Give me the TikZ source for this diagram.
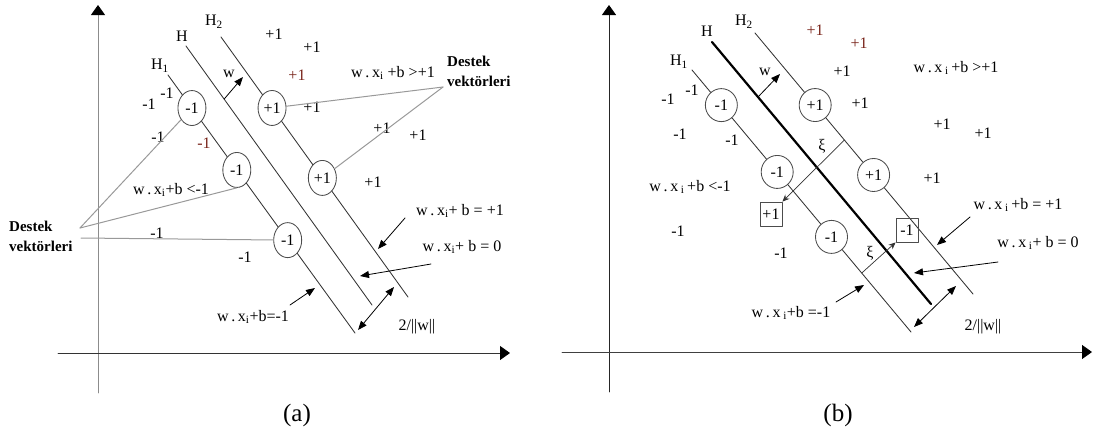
\documentclass[tikz,border=0pt]{standalone}
\usepackage{fontspec}
\setmainfont{Liberation Serif}
\usetikzlibrary{arrows.meta,shapes.geometric}
\definecolor{valred}{RGB}{120,35,25}
\newcommand{\wdotx}{w\,.\,x\textsubscript{i}}

\begin{document}
\begin{tikzpicture}[x=1pt, y=-1pt, font=\fontsize{16}{19}\selectfont, line join=round, line cap=round,
  >={Triangle[length=9pt,width=7pt]},
  axis/.style={line width=0.9pt, -{Triangle[length=10pt,width=14pt,color=black]}},
  hyp/.style={draw=black!80, line width=0.85pt},
  sv/.style={ellipse, draw=black!70, line width=0.85pt, minimum width=28pt, minimum height=35pt, inner sep=0pt},
  svb/.style={sv, minimum width=32pt, minimum height=33pt},
  slack/.style={draw=black!70, line width=0.8pt, minimum width=22pt, minimum height=24pt, inner sep=0pt},
  link/.style={draw=black!40, line width=1pt},
  lbl/.style={inner sep=0pt},
  dv/.style={inner sep=0pt, anchor=west, align=left, font=\fontsize{15}{20}\selectfont\bfseries},
  note/.style={->, line width=0.8pt},
  xiarrow/.style={-{Stealth[length=7pt,width=6pt]}, draw=black!80, line width=0.7pt}]
\useasboundingbox (0,0) rectangle (1097,437);

% ---------- (a) ----------
\coordinate (a-y0) at (98,393);
\coordinate (a-y1) at (98,5);
\coordinate (a-x0) at (58,353);
\coordinate (a-x1) at (510,353);
\draw[axis, draw=black!45] (a-y0) -- (a-y1);
\draw[axis, draw=black!80] (a-x0) -- (a-x1);

\coordinate (a-H2s) at (221,37);
\coordinate (a-H2e) at (408,297);
\coordinate (a-Hs) at (186,46);
\coordinate (a-He) at (372,305);
\coordinate (a-H1s) at (168,75);
\coordinate (a-H1e) at (355,333);
\node[lbl] (a-lH2) at (214,22) {H\textsubscript{2}};
\node[lbl] (a-lH) at (182,36) {H};
\node[lbl] (a-lH1) at (160,66) {H\textsubscript{1}};

% support vectors on the margins
\path (a-H1s) -- (a-H1e) node[sv, pos=0.128] (a-m1) {-1} node[sv, pos=0.368] (a-m2) {-1}
  node[sv, pos=0.64] (a-m3) {-1};
\path (a-H2s) -- (a-H2e) node[sv, pos=0.273] (a-s1) {+1} node[sv, pos=0.542] (a-s2) {+1};
\draw[hyp] (a-H1s) -- (a-m1) -- (a-m2) -- (a-m3) -- (a-H1e);
\draw[hyp] (a-Hs) -- (a-He);
\draw[hyp] (a-H2s) -- (a-s1) -- (a-s2) -- (a-H2e);

\path (a-Hs) -- (a-He) coordinate[pos=0.205] (a-w0);
\coordinate (a-w1) at (243,77);
\draw[note] (a-w0) -- (a-w1);
\node[lbl] (a-lw) at (229,74) {w};

% class labels
\node[lbl] (a-p1) at (274,34) {+1};
\node[lbl] (a-p2) at (312,47) {+1};
\node[lbl, text=valred] (a-p3) at (297,75) {+1};
\node[lbl] (a-p4) at (312,107) {+1};
\node[lbl] (a-p5) at (382,128) {+1};
\node[lbl] (a-p6) at (418,135) {+1};
\node[lbl] (a-p7) at (373,182) {+1};
\node[lbl] (a-n1) at (167,93) {-1};
\node[lbl] (a-n2) at (149,104) {-1};
\node[lbl] (a-n3) at (158,137) {-1};
\node[lbl, text=valred] (a-n4) at (204,143) {-1};
\node[lbl] (a-n5) at (157,233) {-1};
\node[lbl] (a-n6) at (245,257) {-1};

% Destek vektorleri
\node[dv] (a-dvr) at (447,71) {Destek\\vektörleri};
\node[dv] (a-dvl) at (9,236) {Destek\\vektörleri};
\coordinate (a-dvr0) at (443,87);
\coordinate (a-dvl0) at (80,228);
\coordinate (a-dvl1) at (81,238);
\draw[link] (a-dvr0) -- (a-s1);
\draw[link] (a-dvr0) -- (a-s2);
\draw[link] (a-dvl0) -- (a-m1);
\draw[link] (a-dvl0) -- (a-m2.south);
\draw[link] (a-dvl1) -- (a-m3);

% equations
\node[lbl] (a-gt) at (393,73) {\wdotx\ +b >+1};
\node[lbl] (a-lt) at (171,190) {\wdotx +b <-1};
\node[lbl] (a-e1) at (460,211) {\wdotx + b = +1};
\node[lbl] (a-e0) at (462,247) {\wdotx + b = 0};
\node[lbl] (a-em) at (253,317) {\wdotx +b=-1};
\node[lbl] (a-mg) at (417,327) {2/||w||};
\coordinate (a-e1t) at (405,218);
\coordinate (a-e1h) at (378,249);
\coordinate (a-e0t) at (431,264);
\coordinate (a-e0h) at (360,276);
\coordinate (a-emt) at (290,305);
\coordinate (a-emh) at (315,288);
\coordinate (a-mg0) at (358,330);
\coordinate (a-mg1) at (394,287);
\draw[note] (a-e1t) -- (a-e1h);
\draw[note] (a-e0t) -- (a-e0h);
\draw[note] (a-emt) -- (a-emh);
\draw[note, <->] (a-mg0) -- (a-mg1);
\node[lbl, font=\fontsize{25}{28}\selectfont] (a-cap) at (297,415) {(a)};

% ---------- (b) ----------
\coordinate (b-y0) at (609,392);
\coordinate (b-y1) at (609,5);
\coordinate (b-x0) at (562,352);
\coordinate (b-x1) at (1092,352);
\draw[axis, draw=black!85] (b-y0) -- (b-y1);
\draw[axis, draw=black!75] (b-x0) -- (b-x1);

\coordinate (b-H2s) at (755,33);
\coordinate (b-H2e) at (973,294);
\coordinate (b-Hs) at (712,42);
\coordinate (b-He) at (931,304);
\coordinate (b-H1s) at (692,70);
\coordinate (b-H1e) at (911,332);
\node[lbl] (b-lH2) at (744,22) {H\textsubscript{2}};
\node[lbl] (b-lH) at (707,31) {H};
\node[lbl] (b-lH1) at (679,62) {H\textsubscript{1}};

\path (b-H1s) -- (b-H1e) node[svb, pos=0.134] (b-m1) {-1} node[svb, pos=0.389] (b-m2) {-1}
  node[svb, pos=0.637] (b-m3) {-1};
\path (b-H2s) -- (b-H2e) node[svb, pos=0.276] (b-s1) {+1} node[svb, pos=0.544] (b-s2) {+1};
\draw[hyp] (b-H1s) -- (b-m1) -- (b-m2) -- (b-m3) -- (b-H1e);
\draw[line width=2.2pt] (b-Hs) -- (b-He);
\draw[hyp] (b-H2s) -- (b-s1) -- (b-s2) -- (b-H2e);

\path (b-Hs) -- (b-He) coordinate[pos=0.21] (b-w0);
\coordinate (b-w1) at (780,74);
\draw[note] (b-w0) -- (b-w1);
\node[lbl] (b-lw) at (765,72) {w};

% slack points
\node[slack] (b-bp) at (771,214) {+1};
\node[slack] (b-bm) at (907,230) {-1};
\path (b-H2s) -- (b-H2e) coordinate[pos=0.41] (b-xi1);
\path (b-H1s) -- (b-H1e) coordinate[pos=0.775] (b-xi2);
\draw[xiarrow] (b-xi1) -- (b-bp.north east);
\draw[xiarrow] (b-xi2) -- (b-bm.south west);
\node[lbl] (b-lxi1) at (822,146) {ξ};
\node[lbl] (b-lxi2) at (870,253) {ξ};

\node[lbl, text=valred] (b-p1) at (815,30) {+1};
\node[lbl, text=valred] (b-p2) at (859,43) {+1};
\node[lbl] (b-p3) at (842,71) {+1};
\node[lbl] (b-p4) at (860,103) {+1};
\node[lbl] (b-p5) at (942,124) {+1};
\node[lbl] (b-p6) at (983,133) {+1};
\node[lbl] (b-p7) at (932,178) {+1};
\node[lbl] (b-n1) at (692,90) {-1};
\node[lbl] (b-n2) at (668,99) {-1};
\node[lbl] (b-n3) at (680,134) {-1};
\node[lbl] (b-n4) at (732,140) {-1};
\node[lbl] (b-n5) at (678,231) {-1};
\node[lbl] (b-n6) at (781,253) {-1};

\node[lbl] (b-gt) at (956,68) {w\,.\,x\,\textsubscript{i}\,+b >+1};
\node[lbl] (b-lt) at (690,187) {w\,.\,x\,\textsubscript{i}\,+b <-1};
\node[lbl] (b-e1) at (1018,205) {w\,.\,x\,\textsubscript{i}\,+b = +1};
\node[lbl] (b-e0) at (1038,243) {w\,.\,x\,\textsubscript{i}+ b = 0};
\node[lbl] (b-em) at (791,313) {w\,.\,x\,\textsubscript{i}+b =-1};
\node[lbl] (b-mg) at (983,327) {2/||w||};
\coordinate (b-e1t) at (970,217);
\coordinate (b-e1h) at (937,245);
\coordinate (b-e0t) at (998,262);
\coordinate (b-e0h) at (914,273);
\coordinate (b-emt) at (836,302);
\coordinate (b-emh) at (864,285);
\coordinate (b-mg0) at (914,327);
\coordinate (b-mg1) at (956,286);
\draw[note] (b-e1t) -- (b-e1h);
\draw[note] (b-e0t) -- (b-e0h);
\draw[note] (b-emt) -- (b-emh);
\draw[note, <->] (b-mg0) -- (b-mg1);
\node[lbl, font=\fontsize{25}{28}\selectfont] (b-cap) at (838,415) {(b)};
\end{tikzpicture}
\end{document}
